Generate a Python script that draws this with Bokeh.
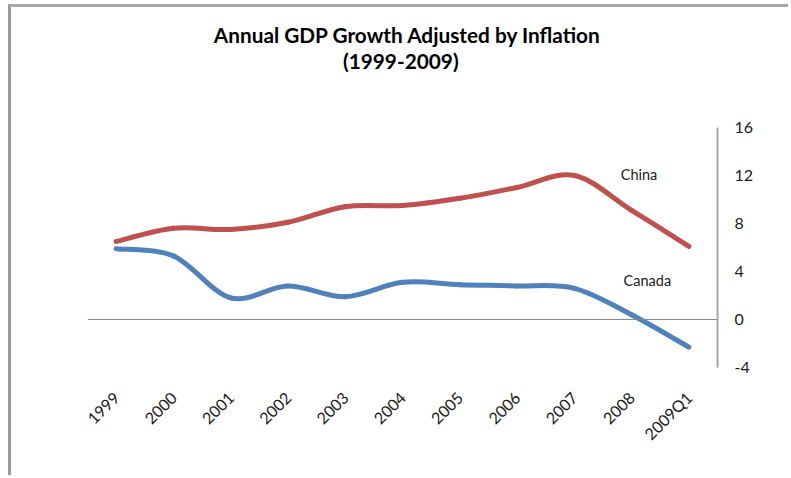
import numpy as np
from bokeh.plotting import figure
from bokeh.models import Span, Label, FixedTicker, LinearAxis, Range1d
from bokeh.embed import file_html
from bokeh.resources import INLINE

categories = ["1999", "2000", "2001", "2002", "2003", "2004", "2005", "2006", "2007", "2008", "2009Q1"]
china = [6.5, 7.6, 7.5, 8.1, 9.4, 9.5, 10.1, 11.0, 12.0, 9.1, 6.1]
canada = [5.9, 5.3, 1.8, 2.8, 1.9, 3.1, 2.9, 2.8, 2.6, 0.4, -2.3]
y_ticks = [-4, 0, 4, 8, 12, 16]
y_tick_labels = ["-4", "0", "4", "8", "12", "16"]
title_lines = ["Annual GDP Growth Adjusted by Inflation", "(1999-2009)"]

FONT = "Lato"
W, H = 780, 471
Y_TOP = 26  # plot area extends to the top of the canvas so that the titles fit inside it

p = figure(width=W, height=H, output_backend="svg", toolbar_location=None, title=None,
           x_range=Range1d(0, len(categories)), y_range=Range1d(-4, Y_TOP),
           min_border_left=76, min_border_right=W - 706, min_border_top=0,
           min_border_bottom=H - 360, x_axis_location="below", y_axis_location=None)
p.styles = {"border-left": "3px solid #9a9a9a", "border-top": "3px solid #a8a8a8",
            "margin-left": "8px", "margin-top": "4px"}
p.outline_line_color = None
p.grid.visible = False
p.background_fill_color = "white"
p.border_fill_color = "white"

p.add_layout(Label(x=5.59, y=23.75, text=title_lines[0],
                   text_font=FONT, text_font_style="bold", text_font_size="20.8px",
                   text_color="#000000", text_align="center", text_baseline="middle"))
p.add_layout(Label(x=5.47, y=21.6, text=title_lines[1],
                   text_font=FONT, text_font_style="bold", text_font_size="20.8px",
                   text_color="#000000", text_align="center", text_baseline="middle"))

xs = np.arange(len(categories)) + 0.5

# x axis
p.xaxis.ticker = FixedTicker(ticks=list(xs))
p.xaxis.major_label_overrides = {float(x): c for x, c in zip(xs, categories)}
p.xaxis.major_label_orientation = np.pi / 4
p.xaxis.axis_line_color = None
p.xaxis.major_tick_line_color = None
p.xaxis.minor_tick_line_color = None
p.xaxis.major_tick_out = 0
p.xaxis.major_tick_in = 0
p.xaxis.major_label_standoff = 27
p.xaxis.major_label_text_font = FONT
p.xaxis.major_label_text_font_size = "16px"
p.xaxis.major_label_text_color = "#1a1a1a"

# right y axis
ya = LinearAxis(ticker=FixedTicker(ticks=y_ticks), bounds=(y_ticks[0], y_ticks[-1]))
ya.major_label_overrides = {t: s for t, s in zip(y_ticks, y_tick_labels)}
ya.axis_line_color = "#a6a6a6"
ya.axis_line_width = 2
ya.major_tick_line_color = None
ya.minor_tick_line_color = None
ya.major_tick_out = 0
ya.major_tick_in = 0
ya.major_label_standoff = 17
ya.major_label_text_font = FONT
ya.major_label_text_font_size = "16px"
ya.major_label_text_color = "#1a1a1a"
p.add_layout(ya, "right")

p.add_layout(Span(location=0, dimension="width", line_color="#8a8a8a", line_width=1))


def smooth(xv, yv, k=1.0 / 6.0):
    xv = np.asarray(xv, float)
    yv = np.asarray(yv, float)
    n = len(xv)
    px = np.concatenate([[xv[0]], xv, [xv[-1]]])
    py = np.concatenate([[yv[0]], yv, [yv[-1]]])
    out = dict(x0=[], y0=[], x1=[], y1=[], cx0=[], cy0=[], cx1=[], cy1=[])
    for i in range(n - 1):
        a, b, c, d = i, i + 1, i + 2, i + 3
        out["x0"].append(px[b]); out["y0"].append(py[b])
        out["x1"].append(px[c]); out["y1"].append(py[c])
        out["cx0"].append(px[b] + (px[c] - px[a]) * k)
        out["cy0"].append(py[b] + (py[c] - py[a]) * k)
        out["cx1"].append(px[c] - (px[d] - px[b]) * k)
        out["cy1"].append(py[c] - (py[d] - py[b]) * k)
    return out


for vals, col in [(china, "#C0504D"), (canada, "#4F81BD")]:
    s = smooth(xs, vals)
    p.bezier(x0=s["x0"], y0=s["y0"], x1=s["x1"], y1=s["y1"],
             cx0=s["cx0"], cy0=s["cy0"], cx1=s["cx1"], cy1=s["cy1"],
             line_color=col, line_width=5, line_cap="round")

p.add_layout(Label(x=9.31, y=12.1, text="China", text_font=FONT, text_font_size="14.5px",
                   text_color="#1a1a1a", text_baseline="middle", text_align="left"))
p.add_layout(Label(x=9.36, y=3.25, text="Canada", text_font=FONT, text_font_size="14.5px",
                   text_color="#1a1a1a", text_baseline="middle", text_align="left"))

open("out.html", "w").write(file_html(p, INLINE))
